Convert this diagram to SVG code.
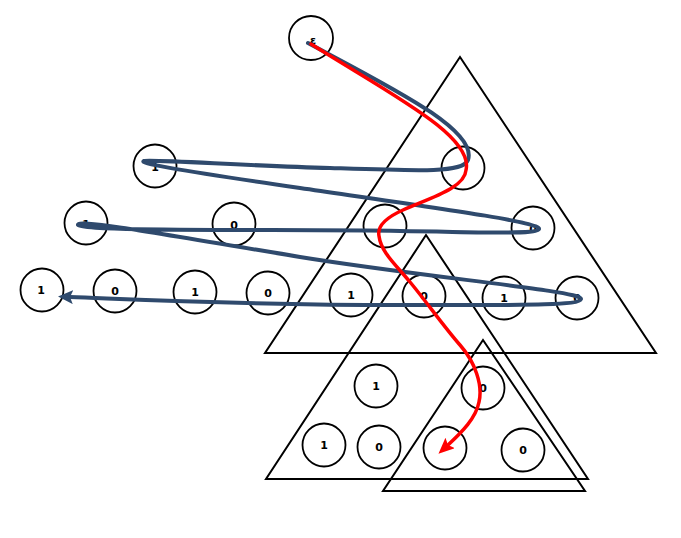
<svg xmlns="http://www.w3.org/2000/svg" width="681" height="538" viewBox="0 0 681 538">
<style>
.tri{fill:none;stroke:#000;stroke-width:2;stroke-linejoin:miter}
.n circle{fill:none;stroke:#000;stroke-width:1.8}
.n text{font-family:"DejaVu Sans","Liberation Sans",sans-serif;font-weight:bold;font-size:11px;text-anchor:middle;fill:#000}
.blue{fill:none;stroke:#2F4A6D;stroke-width:4;stroke-linecap:round;stroke-linejoin:round}
.red{fill:none;stroke:#FF0000;stroke-width:3.5;stroke-linecap:round;stroke-linejoin:round}
</style>
<defs>
<marker id="ab" markerUnits="userSpaceOnUse" markerWidth="18" markerHeight="16" refX="3" refY="7" orient="auto" viewBox="0 0 18 16">
<path d="M0,0 L15,7 L0,14 L3,7 z" fill="#2F4A6D"/>
</marker>
<marker id="ar" markerUnits="userSpaceOnUse" markerWidth="18" markerHeight="16" refX="3" refY="7" orient="auto" viewBox="0 0 18 16">
<path d="M0,0 L16,7 L0,14 L3,7 z" fill="#FF0000"/>
</marker>
</defs>
<g id="triangles">
<polygon class="tri" points="460,57 656,353 265,353"/>
<polygon class="tri" points="426,235 588,479 266,479"/>
<polygon class="tri" points="483,340 585,491 383,491"/>
</g>
<g id="n-eps" class="n"><circle cx="311" cy="38" r="22"/><text x="313" y="44" font-size="10">ε</text></g>
<g id="n-a" class="n"><circle cx="155" cy="166" r="21.5"/><text x="155" y="171">1</text></g>
<g id="n-b" class="n"><circle cx="463" cy="168" r="21.5"/></g>
<g id="n-c" class="n"><circle cx="86" cy="223" r="21.5"/><text x="86" y="228">1</text></g>
<g id="n-d" class="n"><circle cx="234" cy="224" r="21.5"/><text x="234" y="229">0</text></g>
<g id="n-e" class="n"><circle cx="385" cy="226" r="21.5"/></g>
<g id="n-f" class="n"><circle cx="533" cy="228" r="21.5"/><text x="533" y="233">0</text></g>
<g id="n-g1" class="n"><circle cx="42" cy="290" r="21.5"/><text x="41" y="294">1</text></g>
<g id="n-g2" class="n"><circle cx="115" cy="291" r="21.5"/><text x="115" y="295">0</text></g>
<g id="n-g3" class="n"><circle cx="195" cy="292" r="21.5"/><text x="195" y="296">1</text></g>
<g id="n-g4" class="n"><circle cx="268" cy="293" r="21.5"/><text x="268" y="297">0</text></g>
<g id="n-g5" class="n"><circle cx="351" cy="295" r="21.5"/><text x="351" y="299">1</text></g>
<g id="n-g6" class="n"><circle cx="424" cy="296" r="21.5"/><text x="424" y="300">0</text></g>
<g id="n-g7" class="n"><circle cx="504" cy="298" r="21.5"/><text x="504" y="302">1</text></g>
<g id="n-g8" class="n"><circle cx="577" cy="298" r="21.5"/><text x="577" y="302">0</text></g>
<g id="n-h1" class="n"><circle cx="376" cy="386" r="21.5"/><text x="376" y="390">1</text></g>
<g id="n-h2" class="n"><circle cx="324" cy="445" r="21.5"/><text x="324" y="449">1</text></g>
<g id="n-h3" class="n"><circle cx="379" cy="447" r="21.5"/><text x="379" y="451">0</text></g>
<g id="n-h4" class="n"><circle cx="483" cy="388" r="21.5"/><text x="483" y="392">0</text></g>
<g id="n-h5" class="n"><circle cx="445" cy="448" r="21.5"/></g>
<g id="n-h6" class="n"><circle cx="523" cy="450" r="21.5"/><text x="523" y="454">0</text></g>
<g id="connectors">
<path class="blue" marker-end="url(#ab)" d="M308,43 C392,88 478,130 468,160 C463,173 420,171 330,168 C250,166 150,159 144,161 C138,163 170,169 300,188 C430,207 541,222 539,229 C537,235 480,232 400,231 C300,229 80,232 78,225 C76,219 150,232 300,257 C430,278 583,291 581,299 C579,306 520,305 400,305 C250,305 150,300 70,297"/>
<path class="red" marker-end="url(#ar)" d="M311,44 C392,95 474,136 466,170 C465,188 430,198 403,210 C385,218 377,226 379,236 C381,252 395,264 410,282 C425,300 445,328 460,345 C475,362 483,385 479,402 C476,418 462,432 448,445"/>
</g>
</svg>
